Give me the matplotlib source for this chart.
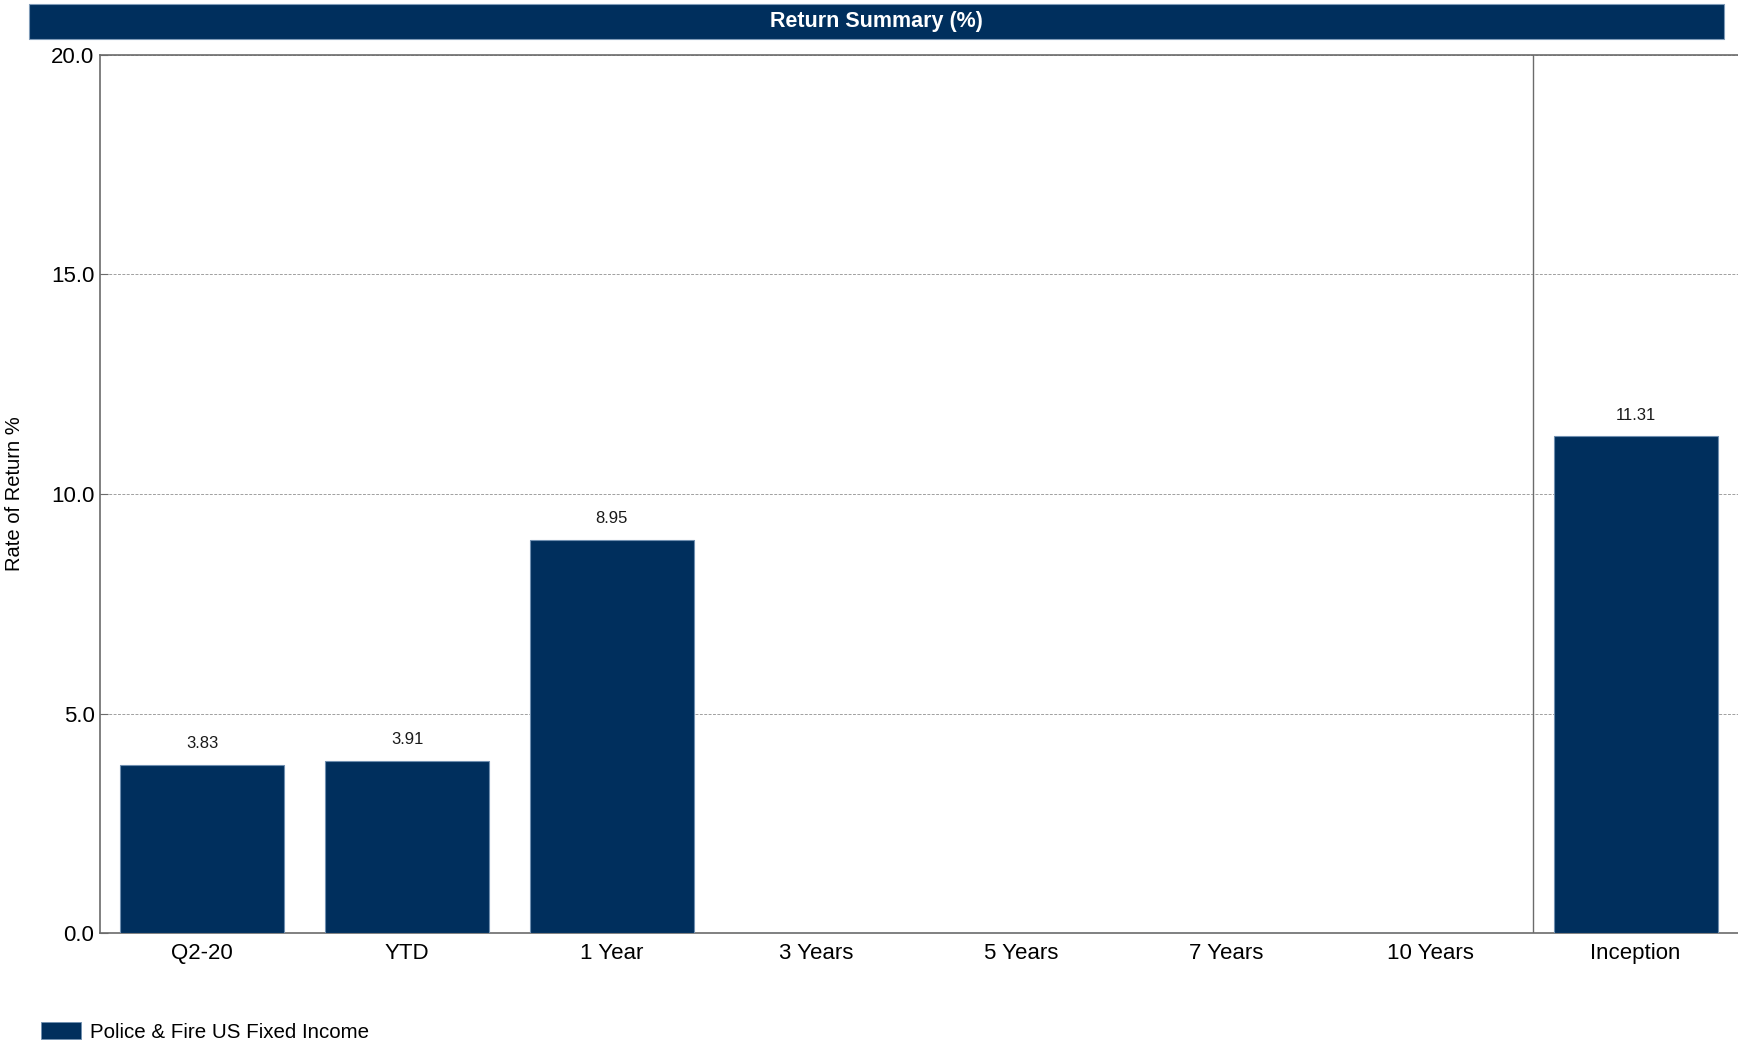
import matplotlib
matplotlib.use('Agg')
import matplotlib.pyplot as plt
from matplotlib.patches import Rectangle

# ── Data ────────────────────────────────────────────────────────────────────
PERIODS = ["Q2-20", "YTD", "1 Year", "3 Years", "5 Years", "7 Years", "10 Years", "Inception"]
RETURNS = [3.83, 3.91, 8.95, None, None, None, None, 11.31]
SERIES_NAME = "Police & Fire US Fixed Income"
Y_TICKS = [0, 5, 10, 15, 20]

NAVY = "#002F5D"
EDGE = "#6F8FB0"
SPINE = "#6B6B6B"
GRID = "#A0A0A0"
FONT = ["Liberation Sans Narrow", "Liberation Sans", "DejaVu Sans"]
FONT_W = ["Liberation Sans", "DejaVu Sans"]

W, H = 1738, 1043
fig = plt.figure(figsize=(W / 100, H / 100), dpi=100)
fig.patch.set_facecolor("white")

# ── Title bar ───────────────────────────────────────────────────────────────
fig.patches.append(Rectangle((29 / W, 1 - 39 / H), (1724 - 29) / W, 35 / H,
                             transform=fig.transFigure, facecolor=NAVY,
                             edgecolor="#7F9BB8", linewidth=0.8))
fig.text(876 / W, 1 - 21.5 / H, "Return Summary (%)", ha="center", va="center",
         color="white", fontsize=15.5, fontweight="bold", family=FONT)

# ── Axes ────────────────────────────────────────────────────────────────────
ax = fig.add_axes([100 / W, 1 - 933 / H, 1 - 100 / W, (933 - 55) / H])
xs = list(range(len(PERIODS)))
vals = [v if v is not None else 0 for v in RETURNS]
ax.bar(xs, vals, width=0.8, color=NAVY, edgecolor=EDGE, linewidth=0.8, zorder=3)

for x, v in zip(xs, RETURNS):
    if v is None:
        continue
    ax.annotate(f"{v:.2f}", (x, v), xytext=(0, 10), textcoords="offset points",
                ha="center", va="bottom", fontsize=12, family=FONT, color="#1a1a1a")

ax.set_xlim(-0.5, len(PERIODS) - 0.5)
ax.set_ylim(0, 20)
ax.set_yticks(Y_TICKS)
ax.set_yticklabels([f"{t:.1f}" for t in Y_TICKS], family=FONT, fontsize=16)
ax.set_xticks(xs)
ax.set_xticklabels(PERIODS, family=FONT, fontsize=16)
ax.tick_params(axis="x", length=0, pad=7)
ax.tick_params(axis="y", direction="in", length=6, color=SPINE, pad=4)

ax.yaxis.grid(True, linestyle=(0, (3, 1.5)), color=GRID, linewidth=0.7, zorder=0)
ax.axvline(6.5, color=SPINE, linewidth=1.0, zorder=2)

for s in ["left", "bottom", "top"]:
    ax.spines[s].set_color(SPINE)
    ax.spines[s].set_linewidth(1.2)
ax.spines["right"].set_visible(False)

ax.set_ylabel("Rate of Return %", family=FONT_W, fontsize=14.5, labelpad=0)
ax.yaxis.set_label_coords(-76 / (W - 100), 0.5)

# ── Legend ──────────────────────────────────────────────────────────────────
fig.legend([Rectangle((0, 0), 1, 1, facecolor=NAVY, edgecolor=EDGE, linewidth=0.6)],
           [SERIES_NAME], loc="lower left", bbox_to_anchor=(22 / W, 1 - 1060 / H),
           frameon=False, prop={"family": FONT_W, "size": 14.8},
           handlelength=1.95, handleheight=0.85, handletextpad=0.45)

fig.savefig("out.png", dpi=100, facecolor="white")
